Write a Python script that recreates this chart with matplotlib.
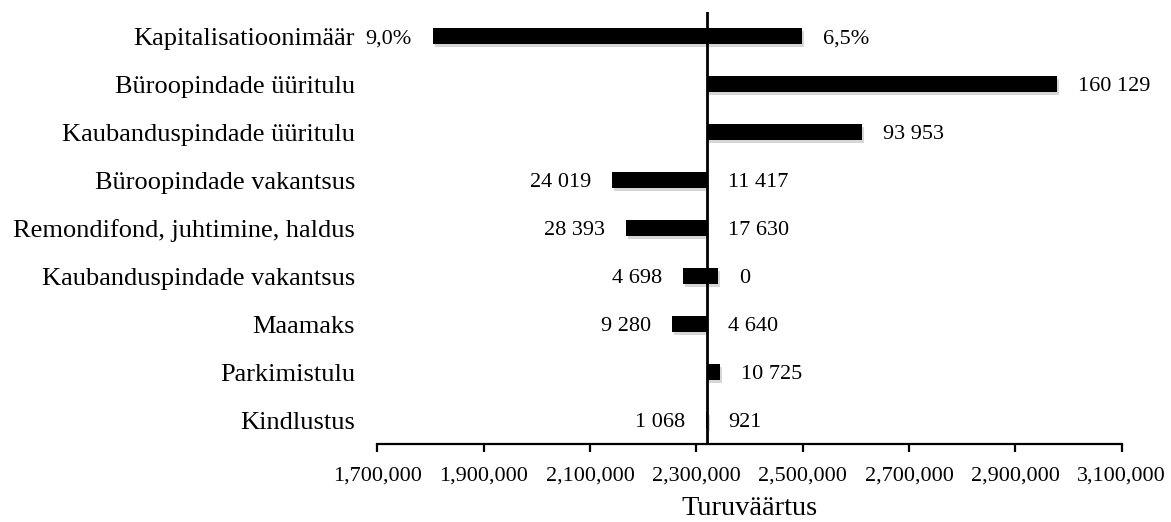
import matplotlib
matplotlib.use("Agg")
import matplotlib.pyplot as plt
import matplotlib.patheffects as pe
from matplotlib.ticker import FuncFormatter

# Sensitivity of the market value to each input (tornado chart)
categories = [
    "Kapitalisatioonimäär",
    "Büroopindade üüritulu",
    "Kaubanduspindade üüritulu",
    "Büroopindade vakantsus",
    "Remondifond, juhtimine, haldus",
    "Kaubanduspindade vakantsus",
    "Maamaks",
    "Parkimistulu",
    "Kindlustus",
]
base_value = 2_320_000
low_values = [1_804_000, 2_320_000, 2_320_000, 2_141_000, 2_167_000,
              2_274_000, 2_254_000, 2_320_000, 2_319_000]
high_values = [2_499_000, 2_978_000, 2_611_000, 2_320_000, 2_320_000,
               2_341_000, 2_320_000, 2_345_000, 2_321_000]
low_labels = ["9,0%", "", "", "24 019", "28 393", "4 698", "9 280", "", "1 068"]
high_labels = ["6,5%", "160 129", "93 953", "11 417", "17 630", "0", "4 640",
               "10 725", "921"]
x_ticks = [1_700_000, 1_900_000, 2_100_000, 2_300_000, 2_500_000,
           2_700_000, 2_900_000, 3_100_000]
x_title = "Turuväärtus"

serif = ["Liberation Serif", "DejaVu Serif"]

fig = plt.figure(figsize=(11.71, 5.22), dpi=100)
ax = fig.add_axes([0.3222, 0.1494, 0.6357, 0.8276])

n = len(categories)
ypos = [n - 1 - i for i in range(n)]
shadow = [pe.SimplePatchShadow(offset=(1.5, -2.0), shadow_rgbFace="#999999", alpha=0.4),
          pe.Normal()]

left_w = [lo - base_value for lo in low_values]
right_w = [hi - base_value for hi in high_values]
bars_l = ax.barh(ypos, left_w, left=base_value, height=0.34, color="black", zorder=2)
bars_r = ax.barh(ypos, right_w, left=base_value, height=0.34, color="black", zorder=2)
for b in list(bars_l) + list(bars_r):
    if abs(b.get_width()) > 0:
        b.set_path_effects(shadow)

for y, lo, hi, ll, hl in zip(ypos, low_values, high_values, low_labels, high_labels):
    if ll:
        ax.annotate(ll, (min(lo, base_value), y), xytext=(-15, -2),
                    textcoords="offset points", ha="right", va="center",
                    fontsize=16, family=serif)
    if hl:
        ax.annotate(hl, (max(hi, base_value), y), xytext=(15, -2),
                    textcoords="offset points", ha="left", va="center",
                    fontsize=16, family=serif)

ax.axvline(base_value, color="black", lw=2, zorder=3)

ax.set_xlim(x_ticks[0], x_ticks[-1])
ax.set_ylim(-0.5, n - 0.5)
ax.set_xticks(x_ticks)
ax.xaxis.set_major_formatter(FuncFormatter(lambda v, p: f"{int(v):,}"))
ax.set_yticks(ypos)
ax.set_yticklabels(categories, family=serif, fontsize=19)

for s in ("left", "right", "top"):
    ax.spines[s].set_visible(False)
ax.spines["bottom"].set_linewidth(1.6)
ax.tick_params(axis="y", length=0, pad=16)
ax.tick_params(axis="x", length=6, width=1.6, direction="out", pad=10)
for t in ax.get_xticklabels():
    t.set_family(serif)
    t.set_fontsize(16)

ax.set_xlabel(x_title, family=serif, fontsize=20.5, labelpad=8)

fig.savefig("out.png", dpi=100)
